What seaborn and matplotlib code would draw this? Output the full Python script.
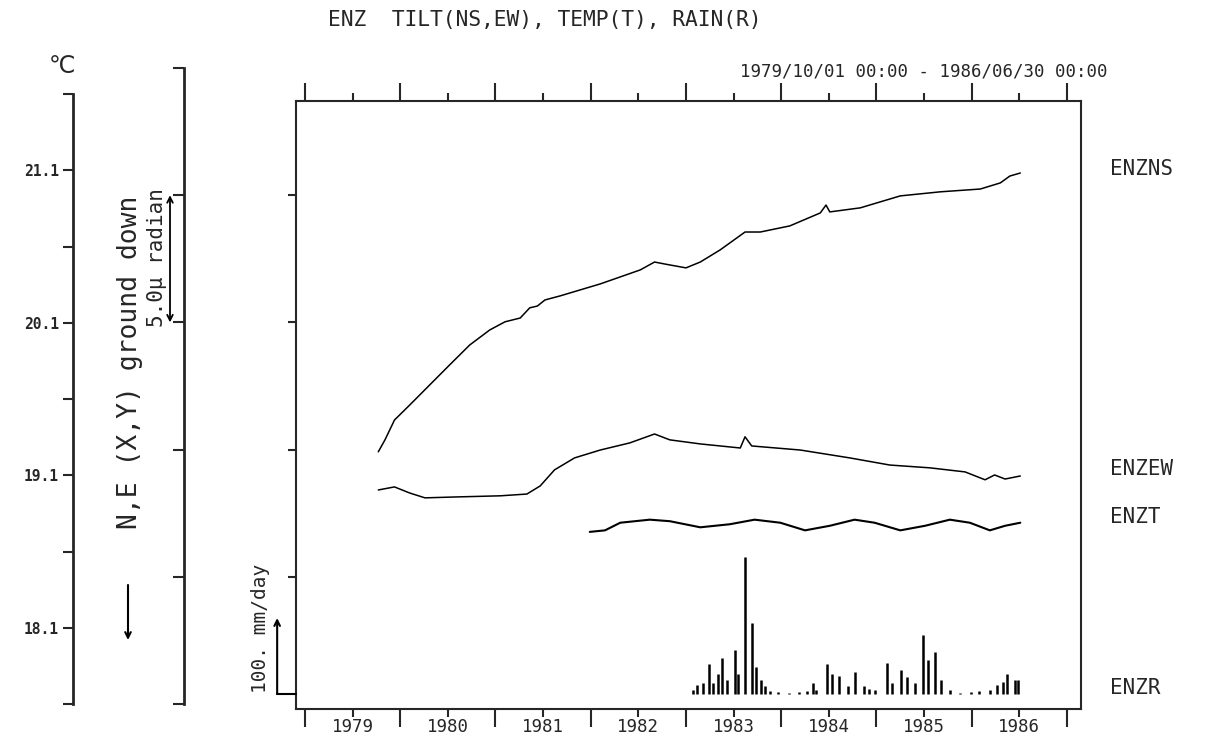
import matplotlib
matplotlib.use("Agg")
import matplotlib.pyplot as plt
import matplotlib.ticker as mticker
import seaborn as sns

# tilt NS / EW, micro radian (relative to the bracket scale), time in decimal years
ns_year = [1979.77, 1979.84, 1979.94, 1980.10, 1980.31, 1980.52, 1980.73, 1980.94,
           1981.10, 1981.26, 1981.36, 1981.44, 1981.52, 1981.68, 1982.10, 1982.52,
           1982.67, 1982.78, 1983.00, 1983.15, 1983.36, 1983.62, 1983.78, 1984.09,
           1984.41, 1984.47, 1984.51, 1984.83, 1985.25, 1985.67, 1986.09, 1986.30,
           1986.40, 1986.51]
ns_val = [9.91, 10.38, 11.16, 11.75, 12.54, 13.33, 14.11, 14.70,
          15.02, 15.17, 15.57, 15.64, 15.88, 16.04, 16.51, 17.06,
          17.37, 17.29, 17.14, 17.37, 17.85, 18.55, 18.55, 18.79,
          19.30, 19.61, 19.34, 19.50, 19.97, 20.13, 20.24, 20.48,
          20.75, 20.87]

ew_year = [1979.77, 1979.94, 1980.10, 1980.26, 1980.63, 1981.05, 1981.33, 1981.47,
           1981.62, 1981.83, 1982.10, 1982.41, 1982.67, 1982.83, 1983.15, 1983.57,
           1983.62, 1983.69, 1984.20, 1984.72, 1985.14, 1985.56, 1985.93, 1986.14,
           1986.24, 1986.35, 1986.51]
ew_val = [8.41, 8.53, 8.29, 8.10, 8.14, 8.18, 8.25, 8.57,
          9.20, 9.67, 9.98, 10.26, 10.61, 10.38, 10.22, 10.06,
          10.50, 10.14, 9.98, 9.67, 9.39, 9.28, 9.12, 8.81,
          9.00, 8.84, 8.96]

# temperature, deg C
t_year = [1981.99, 1982.15, 1982.31, 1982.62, 1982.83, 1983.15, 1983.46, 1983.72,
          1983.99, 1984.25, 1984.51, 1984.77, 1984.98, 1985.25, 1985.51, 1985.77,
          1985.98, 1986.19, 1986.35, 1986.51]
t_val = [18.73, 18.74, 18.79, 18.81, 18.80, 18.76, 18.78, 18.81,
         18.79, 18.74, 18.77, 18.81, 18.79, 18.74, 18.77, 18.81,
         18.79, 18.74, 18.77, 18.79]

# rain, mm/day
rain_year = [1983.07, 1983.12, 1983.18, 1983.24, 1983.28, 1983.34, 1983.38, 1983.43,
             1983.51, 1983.55, 1983.62, 1983.69, 1983.74, 1983.79, 1983.83, 1983.88,
             1983.97, 1984.08, 1984.19, 1984.27, 1984.33, 1984.36, 1984.48, 1984.53,
             1984.61, 1984.70, 1984.77, 1984.87, 1984.92, 1984.98, 1985.11, 1985.16,
             1985.26, 1985.32, 1985.40, 1985.49, 1985.54, 1985.61, 1985.68, 1985.77,
             1985.88, 1985.99, 1986.08, 1986.19, 1986.27, 1986.33, 1986.37, 1986.45,
             1986.49]
rain_mm = [5, 12, 14, 39, 14, 27, 48, 18,
           58, 27, 180, 93, 36, 18, 10, 4,
           3, 2, 3, 4, 14, 5, 40, 27,
           24, 10, 29, 10, 7, 5, 41, 14,
           32, 23, 14, 78, 45, 55, 18, 5,
           2, 3, 4, 5, 12, 16, 27, 19,
           18]

years = list(range(1979, 1988))
year_labels = [str(y) for y in range(1979, 1987)]
temp_labels = ["18.1", "19.1", "20.1", "21.1"]

sns.set_style("ticks")
plt.rcParams['font.family'] = ['DejaVu Sans Mono', 'DejaVu Sans']

W, H = 1216, 753
fig = plt.figure(figsize=(W / 100, H / 100), dpi=100)


def box(x0, y0, x1, y1):
    # pixel box -> figure fraction
    return [x0 / W, 1 - y1 / H, (x1 - x0) / W, (y1 - y0) / H]


# main frame
ax = fig.add_axes(box(296, 101, 1081, 709))
ax.set_xlim(1978.906, 1987.147)
ax.set_ylim(-0.2, 23.7)
for s in ax.spines.values():
    s.set_linewidth(1.5)

sns.lineplot(x=ns_year, y=ns_val, ax=ax, color="black", lw=1.1)
sns.lineplot(x=ew_year, y=ew_val, ax=ax, color="black", lw=1.1)

ax.set_xticks(years)
ax.set_xticklabels([])
ax.set_xticks([y + 0.5 for y in years[:-1]], minor=True)
ax.xaxis.set_minor_formatter(mticker.FixedFormatter(year_labels))
ax.tick_params(axis="x", which="both", top=True, bottom=True, direction="out",
               width=1.5, labelsize=12.5)
ax.tick_params(axis="x", which="major", length=13)
ax.tick_params(axis="x", which="minor", length=6, pad=0.5)
ax.yaxis.tick_right()
ax.set_yticks([5, 10, 15, 20])
ax.set_yticklabels([])
ax.tick_params(axis="y", length=6, width=1.5, direction="out")
ax.set_xlabel("")
ax.set_ylabel("")

# temperature on its own scale
axT = ax.twinx()
axT.set_ylim(17.570, 21.552)
sns.lineplot(x=t_year, y=t_val, ax=axT, color="black", lw=1.5)
axT.axis("off")

# rain bars
axR = ax.twinx()
axR.set_ylim(-19.7, 780.3)
axR.vlines(rain_year, 0, rain_mm, color="black", lw=1.8)
axR.axis("off")
# 100 mm/day scale arrow
axR.annotate("", xy=(-0.024, 100), xytext=(-0.024, 0),
             xycoords=("axes fraction", "data"), annotation_clip=False,
             arrowprops=dict(arrowstyle="->", lw=1.5, color="black", shrinkA=0, shrinkB=0))
axR.plot([-0.024, 0], [0, 0], color="black", lw=1.5, clip_on=False,
         transform=axR.get_yaxis_transform())
fig.text(261 / W, 1 - 693 / H, "100. mm/day", rotation=90, ha="center", va="bottom",
         fontsize=14)

# temperature bracket
axTemp = fig.add_axes(box(73, 94, 73.5, 704))
axTemp.set_ylim(17.6, 21.6)
axTemp.set_xticks([])
for k in ["top", "right", "bottom"]:
    axTemp.spines[k].set_visible(False)
axTemp.spines["left"].set_linewidth(2)
axTemp.set_yticks([18.1, 19.1, 20.1, 21.1])
axTemp.set_yticklabels(temp_labels, fontweight="bold", fontsize=10.5)
axTemp.set_yticks([17.6, 18.6, 19.6, 20.6, 21.6], minor=True)
axTemp.tick_params(axis="y", which="both", length=7, width=1.5, direction="out", pad=3)
fig.text(62 / W, 1 - 66 / H, "℃", ha="center", va="center", fontsize=17,
         family="DejaVu Sans")

# tilt bracket
axB = fig.add_axes(box(184, 68, 184.5, 704))
axB.set_ylim(0, 25)
axB.set_xticks([])
for k in ["top", "right", "bottom"]:
    axB.spines[k].set_visible(False)
axB.spines["left"].set_linewidth(2)
axB.set_yticks([0, 5, 10, 15, 20, 25])
axB.set_yticklabels([])
axB.tick_params(axis="y", length=8, width=1.5, direction="out")
axB.annotate("", xy=(170 / W, 15), xytext=(170 / W, 20),
             xycoords=("figure fraction", "data"), annotation_clip=False,
             arrowprops=dict(arrowstyle="<->", lw=1.3, color="black", shrinkA=0, shrinkB=0))

fig.text(130 / W, 1 - 362 / H, "N,E (X,Y) ground down", rotation=90,
         ha="center", va="center", fontsize=19)
fig.text(157 / W, 1 - 258 / H, "5.0μ radian", rotation=90,
         ha="center", va="center", fontsize=15)
ax.annotate("", xy=(128 / W, 1 - 640 / H), xytext=(128 / W, 1 - 585 / H),
            xycoords="figure fraction", annotation_clip=False,
            arrowprops=dict(arrowstyle="->", lw=1.5, color="black", shrinkA=0, shrinkB=0))

# titles and series names
fig.text(328 / W, 1 - 20 / H, "ENZ  TILT(NS,EW), TEMP(T), RAIN(R)",
         ha="left", va="center", fontsize=15.3)
fig.text(740 / W, 1 - 72 / H, "1979/10/01 00:00 - 1986/06/30 00:00",
         ha="left", va="center", fontsize=12.5)
for name, yp in [("ENZNS", 169), ("ENZEW", 469), ("ENZT", 517), ("ENZR", 688)]:
    fig.text(1110 / W, 1 - yp / H, name, ha="left", va="center", fontsize=15)

fig.savefig("out.png", dpi=100)
